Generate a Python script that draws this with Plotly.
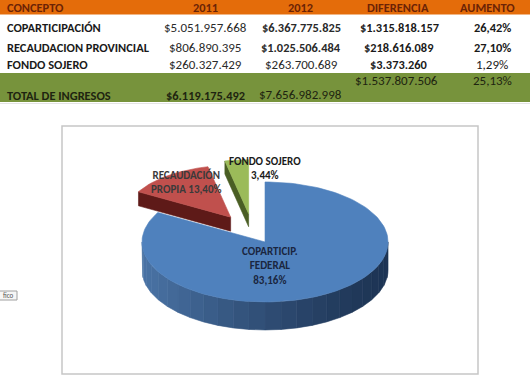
import numpy as np
import plotly.graph_objects as go

# ---------------- data ----------------
header = ["CONCEPTO", "2011", "2012", "DIFERENCIA", "AUMENTO"]
conceptos = ["COPARTICIPACIÓN", "RECAUDACION PROVINCIAL", "FONDO SOJERO"]
v2011 = ["$5.051.957.668", "$806.890.395", "$260.327.429"]
v2012 = ["$6.367.775.825", "$1.025.506.484", "$263.700.689"]
diferencia = ["$1.315.818.157", "$218.616.089", "$3.373.260"]
aumento = ["26,42%", "27,10%", "1,29%"]
total_label = "TOTAL DE INGRESOS"
total_2011 = "$6.119.175.492"
total_2012 = "$7.656.982.998"
total_dif = "$1.537.807.506"
total_aum = "25,13%"

pie_labels = ["COPARTICIP.<br>FEDERAL", "RECAUDACIÓN<br>PROPIA", "FONDO SOJERO"]
pie_pct = [83.16, 13.40, 3.44]

# ---------------- styles / layout ----------------
FONT = "Carlito, Lato, 'Open Sans', sans-serif"
W, H = 530, 382
col_x = [5, 205, 301, 399, 492]
head_x = [5, 205, 300, 398, 487]
row_y = [27, 47, 64]
bold_2011 = [False, False, False]
bold_2012 = [True, True, False]
bold_dif = [True, True, True]
bold_aum = [True, True, False]
SZ_B = 12.4
SZ_R = 13

fig = go.Figure()

shapes = []
annotations = []

# table bands
shapes.append(dict(type="rect", xref="x", yref="y", x0=0, x1=W, y0=0, y1=14.5,
                   fillcolor="#E46C0A", line=dict(width=0), layer="below"))
shapes.append(dict(type="rect", xref="x", yref="y", x0=0, x1=W, y0=73, y1=102,
                   fillcolor="#77933C", line=dict(width=0), layer="below"))
shapes.append(dict(type="line", xref="x", yref="y", x0=0, x1=W, y0=103.5, y1=103.5,
                   line=dict(color="#e4e4e4", width=1), layer="below"))


def txt(x, y, s, bold=False, color="#1a1a1a", anchor="center", size=None):
    if size is None:
        size = SZ_B if bold else SZ_R
    annotations.append(dict(
        x=x, y=y, xref="x", yref="y", text=f"<b>{s}</b>" if bold else s,
        showarrow=False, xanchor=anchor, yanchor="middle",
        font=dict(family=FONT, size=size, color=color)))


for i, h in enumerate(header):
    txt(head_x[i], 7, h, bold=True, color="#6B2306",
        anchor="left" if i == 0 else "center")

for r in range(3):
    y = row_y[r]
    txt(col_x[0], y, conceptos[r], bold=True, anchor="left")
    txt(col_x[1], y, v2011[r], bold=bold_2011[r], color="#2a2a2a")
    txt(col_x[2], y, v2012[r], bold=bold_2012[r], color="#2a2a2a")
    txt(col_x[3], y, diferencia[r], bold=bold_dif[r])
    txt(col_x[4], y, aumento[r], bold=bold_aum[r])

txt(col_x[0], 95, total_label, bold=True, anchor="left", color="#1e2410")
txt(col_x[1], 95, total_2011, bold=True, color="#1e2410")
txt(col_x[2] - 1, 94, total_2012, bold=False, color="#1e2410")
txt(col_x[3] - 3, 80, total_dif, bold=False, color="#1e2410")
txt(col_x[4], 80, total_aum, bold=False, color="#1e2410")

# chart area box
shapes.append(dict(type="rect", xref="x", yref="y", x0=62, x1=478, y0=126, y1=374,
                   fillcolor="white", line=dict(color="#c6c6c6", width=1.5), layer="below"))
# small button fragment
shapes.append(dict(type="rect", xref="x", yref="y", x0=-2, x1=17, y0=291, y1=300,
                   fillcolor="#f6f6f6", line=dict(color="#a0a0a0", width=1), layer="below"))
annotations.append(dict(x=8, y=295.5, xref="x", yref="y", text="fico", showarrow=False,
                        font=dict(family=FONT, size=7, color="#555")))

# ---------------- 3D pie from values ----------------
cx, cy = 252.6, 231.6            # base centre
a, b = 123, 60                   # ellipse semi axes
explode = [0.2, 0.3, 0.3]        # per slice explosion
persp = [1.0, 0.86, 0.9]         # per slice perspective scale
depths = [28, 14, 13]            # visible wall height
top_cols = ["#4F81BD", "#C0504D", "#9BBB59"]
wall_cols = ["#2b4a72", "#5e1a18", "#4a5e24"]

total = sum(pie_pct)
bounds = np.concatenate([[0], np.cumsum(pie_pct) / total * 360.0])


def poly(xs, ys, color):
    fig.add_trace(go.Scatter(x=xs, y=ys, mode="lines", fill="toself",
                             fillcolor=color, line=dict(color=color, width=0.6),
                             hoverinfo="skip", showlegend=False))


def mix(c1, c2, t):
    c1 = [int(c1[i:i + 2], 16) for i in (1, 3, 5)]
    c2 = [int(c2[i:i + 2], 16) for i in (1, 3, 5)]
    return "#" + "".join(f"{int(round(p + (q - p) * t)):02x}" for p, q in zip(c1, c2))


# draw order: back slices first (red, green), front (blue) last
for i in [1, 2, 0]:
    t0, t1 = bounds[i], bounds[i + 1]
    m = np.radians((t0 + t1) / 2)
    vx = cx + explode[i] * a * np.sin(m)
    vy = cy - explode[i] * b * np.cos(m)
    s = persp[i]
    depth = depths[i]

    def pt(th):
        r = np.radians(th)
        return vx + s * a * np.sin(r), vy - s * b * np.cos(r)

    # radial cut faces (only if facing the viewer)
    for th, nrm in [(t0, t0 - 90), (t1, t1 + 90)]:
        if -np.cos(np.radians(nrm)) > 0.05:
            px, py = pt(th)
            poly([vx, px, px, vx, vx], [vy, py, py + depth, vy + depth, vy], wall_cols[i])
    # outer rim, only front-facing part (90..270)
    lo, hi = max(t0, 90), min(t1, 270)
    if hi > lo:
        nseg = 24
        edges = np.linspace(lo, hi, nseg + 1)
        for k in range(nseg):
            ths = np.linspace(edges[k], edges[k + 1], 6)
            xs, ys = pt(ths)
            tt = (1 - np.sin(np.radians((edges[k] + edges[k + 1]) / 2))) / 2
            col = mix("#1d3454", "#4a73a5", tt ** 1.3) if i == 0 else wall_cols[i]
            poly(list(xs) + list(xs[::-1]) + [xs[0]],
                 list(ys) + list((ys + depth)[::-1]) + [ys[0]], col)
    # top face
    ths = np.linspace(t0, t1, max(int((t1 - t0) / 2), 4) + 1)
    xs, ys = pt(ths)
    poly([vx] + list(xs) + [vx], [vy] + list(ys) + [vy], top_cols[i])

# labels
pct_txt = [f"{p:.2f}".replace(".", ",") + "%" for p in pie_pct]
annotations.append(dict(x=270, y=266, xref="x", yref="y",
                        text=f"<b>{pie_labels[0]}<br>{pct_txt[0]}</b>", showarrow=False,
                        font=dict(family=FONT, size=11, color="#1a2640"), align="center"))
annotations.append(dict(x=186, y=182, xref="x", yref="y",
                        text=f"<b>{pie_labels[1]} {pct_txt[1]}</b>",
                        showarrow=False, align="center",
                        font=dict(family=FONT, size=11, color="#3a3a3a")))
annotations.append(dict(x=265, y=168, xref="x", yref="y",
                        text=f"<b>{pie_labels[2]}<br>{pct_txt[2]}</b>", showarrow=False,
                        align="center", font=dict(family=FONT, size=11, color="#1a1a1a")))

fig.update_layout(
    width=W, height=H, margin=dict(l=0, r=0, t=0, b=0),
    paper_bgcolor="white", plot_bgcolor="white",
    xaxis=dict(range=[0, W], visible=False, fixedrange=True),
    yaxis=dict(range=[H, 0], visible=False, fixedrange=True),
    shapes=shapes, annotations=annotations, showlegend=False,
)

fig.write_html("out.html", config={"displayModeBar": False},
               post_script="document.body.style.margin='0px';document.body.style.overflow='hidden';")
